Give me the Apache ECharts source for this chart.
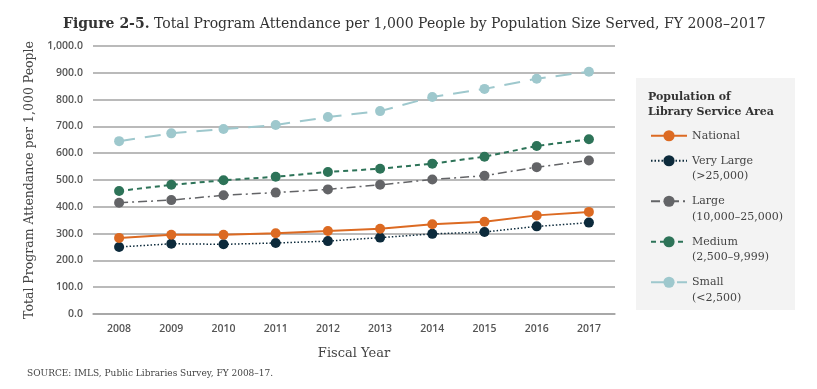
<!DOCTYPE html>
<html><head><meta charset="utf-8">
<script src="https://cdn.jsdelivr.net/npm/echarts@6/dist/echarts.min.js"></script>
<style>html,body{margin:0;padding:0;background:#fff}#c{width:817px;height:389px}</style>
</head><body><div id="c"></div>
<script>
const years = ['2008','2009','2010','2011','2012','2013','2014','2015','2016','2017'];
const yTicks = [0,100,200,300,400,500,600,700,800,900,1000];
const national  = [284,296,296,301,310,318,335,344,368,381];
const veryLarge = [250,262,260,265,272,285,299,306,327,341];
const large     = [415,425,443,453,465,482,502,516,548,573];
const medium    = [459,482,499,512,530,542,561,587,627,652];
const small     = [645,674,690,705,735,757,810,840,878,904];
const seriesNames = ['National','Very Large\n(>25,000)','Large\n(10,000–25,000)','Medium\n(2,500–9,999)','Small\n(<2,500)'];
const colors = ['#dc6a22','#0c2a3b','#636467','#2d7358','#9ec8cd'];
const dashes = ['solid',[1.5,2],[9,4,2,4],[5,4],[16,10]];
const widths = [2,1.5,1.5,2,2];
const dataArr = [national, veryLarge, large, medium, small];

const serif = '"DejaVu Serif", serif';
const sans = '"Open Sans", "DejaVu Sans", sans-serif';

const chart = echarts.init(document.getElementById('c'), null, {renderer:'canvas'});
const series = dataArr.map((d,i)=>({
  name: seriesNames[i], type:'line', data:d, symbol:'circle', symbolSize:10,
  z: 10 - i,
  itemStyle:{color:colors[i]},
  lineStyle:{color:colors[i], width:widths[i], type:dashes[i]},
  animation:false
}));
chart.setOption({
  animation:false,
  title:{
    text:'{b|Figure 2-5.} Total Program Attendance per 1,000 People by Population Size Served, FY 2008–2017',
    left:58, top:12,
    textStyle:{fontFamily:serif, fontSize:14, fontWeight:'normal', color:'#333',
      rich:{b:{fontFamily:serif, fontSize:14, fontWeight:'bold', color:'#333'}}}
  },
  grid:{left:93, right:202, top:46, bottom:75, containLabel:false},
  xAxis:{
    type:'category', data:years, boundaryGap:true,
    name:'Fiscal Year', nameLocation:'middle', nameGap:33,
    nameTextStyle:{fontFamily:serif, fontSize:13, color:'#444'},
    axisLine:{lineStyle:{color:'#a3a3a3', width:1.5}},
    axisTick:{alignWithLabel:true, length:7, lineStyle:{color:'#a3a3a3', width:1}},
    axisLabel:{fontFamily:sans, fontSize:10.5, fontWeight:600, color:'#555', margin:10}
  },
  yAxis:{
    type:'value', min:0, max:1000, interval:100,
    name:'Total Program Attendance per 1,000 People', nameLocation:'middle', nameGap:52,
    nameTextStyle:{fontFamily:serif, fontSize:12.5, color:'#444'},
    axisLine:{show:false}, axisTick:{show:false},
    splitLine:{lineStyle:{color:'#a3a3a3', width:1.5}},
    axisLabel:{fontFamily:sans, fontSize:10.5, fontWeight:600, color:'#555', margin:10,
      formatter:v=> yTicks.includes(v) ? v.toLocaleString('en-US',{minimumFractionDigits:1, maximumFractionDigits:1}) : ''}
  },
  legend:{
    orient:'vertical', left:645, top:123, itemGap:-6,
    itemWidth:36, itemHeight:14,
    data:seriesNames,
    formatter: n => n.indexOf('\n') >= 0 ? '\n' + n : n,
    textStyle:{fontFamily:serif, fontSize:11, color:'#444', lineHeight:15.5},
    selectedMode:false
  },
  graphic:[
    {type:'rect', left:636, top:78, z:-10, shape:{width:159, height:232}, style:{fill:'#f3f3f3'}},
    {type:'text', left:648, top:90, style:{text:'Population of\nLibrary Service Area', font:'bold 11px "DejaVu Serif", serif', fill:'#333', lineHeight:15}},
    {type:'text', left:27, top:369, style:{text:'SOURCE: IMLS, Public Libraries Survey, FY 2008–17.', font:'9px "DejaVu Serif", serif', fill:'#444'}}
  ],
  series: series
});
</script></body></html>
